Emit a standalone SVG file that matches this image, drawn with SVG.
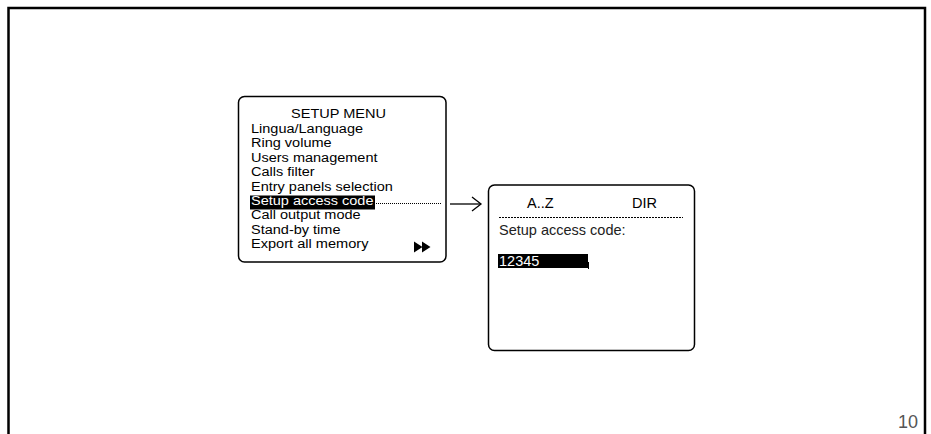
<svg xmlns="http://www.w3.org/2000/svg" width="931" height="434" viewBox="0 0 931 434">
<style>
.t{font-family:"Liberation Sans",Arial,sans-serif;font-size:12.5px;fill:#000}
.r{font-family:"Liberation Sans",Arial,sans-serif;font-size:14.5px;fill:#000}
.box{fill:#fff;stroke:#000;stroke-width:1.5}
</style>
<defs>
<marker id="ah" markerWidth="12" markerHeight="16" refX="10" refY="8" orient="auto" markerUnits="userSpaceOnUse">
<path d="M1,1 L10,8 L1,15" fill="none" stroke="#000" stroke-width="1.3"/>
</marker>
</defs>
<rect width="931" height="434" fill="#fff"/>
<path d="M8.5,434 V8 H925 V434" fill="none" stroke="#000" stroke-width="2.5"/>
<g id="setup-menu">
<rect class="box" x="238.5" y="96.5" width="207.5" height="165.5" rx="6"/>
<text class="t" x="291" y="118" textLength="95" lengthAdjust="spacingAndGlyphs">SETUP MENU</text>
<text class="t" x="251" y="132.5" textLength="112" lengthAdjust="spacingAndGlyphs">Lingua/Language</text>
<text class="t" x="251" y="147" textLength="80.6" lengthAdjust="spacingAndGlyphs">Ring volume</text>
<text class="t" x="251" y="161.5" textLength="126.5" lengthAdjust="spacingAndGlyphs">Users management</text>
<text class="t" x="251" y="176" textLength="63.6" lengthAdjust="spacingAndGlyphs">Calls filter</text>
<text class="t" x="251" y="190.5" textLength="141.8" lengthAdjust="spacingAndGlyphs">Entry panels selection</text>
<rect x="250" y="195.5" width="125" height="14" fill="#000"/>
<text class="t" x="251" y="205" textLength="122.5" lengthAdjust="spacingAndGlyphs" style="fill:#fff">Setup access code</text>
<text class="t" x="251" y="219" textLength="109.6" lengthAdjust="spacingAndGlyphs">Call output mode</text>
<text class="t" x="251" y="233.5" textLength="89.5" lengthAdjust="spacingAndGlyphs">Stand-by time</text>
<text class="t" x="251" y="248" textLength="117.5" lengthAdjust="spacingAndGlyphs">Export all memory</text>
<path d="M414,241.5 L422.5,247 L414,252.5 Z M422,241.5 L430.5,247 L422,252.5 Z" fill="#000"/>
</g>
<g id="access-code">
<rect class="box" x="488.5" y="185" width="206" height="165.5" rx="6"/>
<text class="r" x="527" y="208">A..Z</text>
<text class="r" x="632" y="208">DIR</text>
<line x1="499" y1="217.5" x2="683" y2="217.5" stroke="#000" stroke-width="1" stroke-dasharray="2,1"/>
<text class="r" x="499" y="235" style="fill:#222">Setup access code:</text>
<rect x="498" y="254" width="90" height="14" fill="#000"/>
<line x1="588.5" y1="262" x2="588.5" y2="269" stroke="#000" stroke-width="1"/>
<text class="r" x="499" y="266" style="fill:#fff">12345</text>
</g>
<g id="connectors">
<line x1="376" y1="203.5" x2="442" y2="203.5" stroke="#000" stroke-width="1" stroke-dasharray="1,1"/>
<line x1="450" y1="204" x2="481" y2="204" stroke="#000" stroke-width="1.3" marker-end="url(#ah)"/>
</g>
<text x="918" y="428" text-anchor="end" style="font-family:'Liberation Sans',Arial,sans-serif;font-size:18px;fill:#555">10</text>
</svg>
